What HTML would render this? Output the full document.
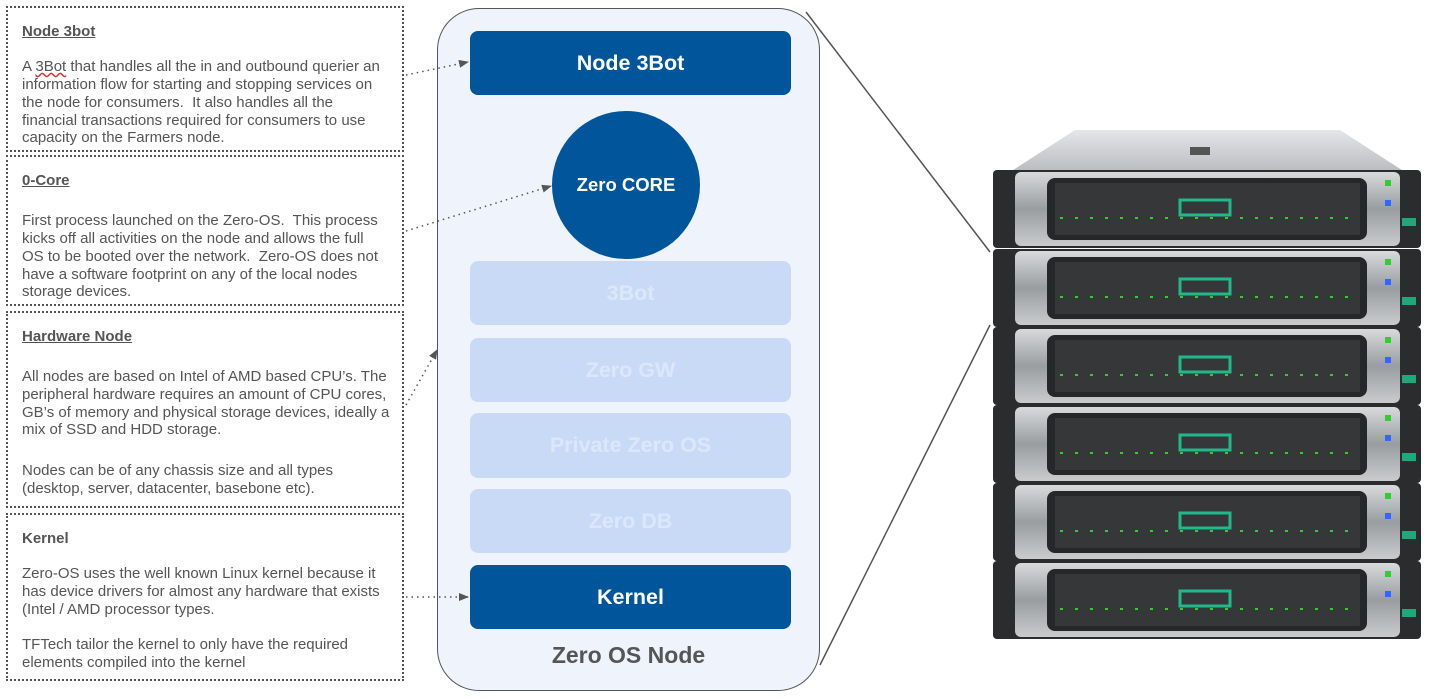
<!DOCTYPE html>
<html><head><meta charset="utf-8"><style>
body{margin:0;width:1449px;height:699px;background:#fff;position:relative;overflow:hidden;font-family:"Liberation Sans",sans-serif;}
.box{position:absolute;left:6px;width:398px;border:2px dotted #555;box-sizing:border-box;}
.t{position:absolute;left:22px;font-size:15px;color:#555;white-space:nowrap;line-height:18px;}
.h{font-weight:bold;text-decoration:underline;}
.blk{position:absolute;left:470px;width:321px;height:64px;border-radius:8px;display:flex;align-items:center;justify-content:center;font-weight:bold;font-size:21.5px;}
.dk{background:#00559b;color:#fff;}
.lt{background:#c9daf7;color:#dce7fa;}
</style></head><body>
<div class="box" style="top:6px;height:146px"></div>
<div class="box" style="top:155px;height:151px"></div>
<div class="box" style="top:311px;height:197px"></div>
<div class="box" style="top:513px;height:168px"></div>

<div class="t h" style="top:23px">Node 3bot</div>
<div class="t" style="top:58px">A <span style="text-decoration:underline wavy #d33">3Bot</span> that handles all the in and outbound querier an</div>
<div class="t" style="top:76px">information flow for starting and stopping services on</div>
<div class="t" style="top:94px">the node for consumers.&nbsp; It also handles all the</div>
<div class="t" style="top:112px">financial transactions required for consumers to use</div>
<div class="t" style="top:129px">capacity on the Farmers node.</div>

<div class="t h" style="top:172px">0-Core</div>
<div class="t" style="top:212px">First process launched on the Zero-OS.&nbsp; This process</div>
<div class="t" style="top:230px">kicks off all activities on the node and allows the full</div>
<div class="t" style="top:248px">OS to be booted over the network.&nbsp; Zero-OS does not</div>
<div class="t" style="top:266px">have a software footprint on any of the local nodes</div>
<div class="t" style="top:283px">storage devices.</div>

<div class="t h" style="top:328px">Hardware Node</div>
<div class="t" style="top:368px">All nodes are based on Intel of AMD based CPU’s. The</div>
<div class="t" style="top:386px">peripheral hardware requires an amount of CPU cores,</div>
<div class="t" style="top:404px">GB’s of memory and physical storage devices, ideally a</div>
<div class="t" style="top:421px">mix of SSD and HDD storage.</div>
<div class="t" style="top:462px">Nodes can be of any chassis size and all types</div>
<div class="t" style="top:480px">(desktop, server, datacenter, basebone etc).</div>

<div class="t" style="top:530px;font-weight:bold">Kernel</div>
<div class="t" style="top:565px">Zero-OS uses the well known Linux kernel because it</div>
<div class="t" style="top:583px">has device drivers for almost any hardware that exists</div>
<div class="t" style="top:601px">(Intel / AMD processor types.</div>
<div class="t" style="top:636px">TFTech tailor the kernel to only have the required</div>
<div class="t" style="top:654px">elements compiled into the kernel</div>

<div style="position:absolute;left:437px;top:8px;width:383px;height:683px;box-sizing:border-box;border:1.5px solid #555;border-radius:42px;background:#eef3fc"></div>
<div class="blk dk" style="top:31px">Node 3Bot</div>
<div style="position:absolute;left:552px;top:111px;width:148px;height:148px;border-radius:50%;background:#00559b;color:#fff;font-weight:bold;font-size:18.5px;display:flex;align-items:center;justify-content:center">Zero CORE</div>
<div class="blk lt" style="top:261px">3Bot</div>
<div class="blk lt" style="top:338px">Zero GW</div>
<div class="blk lt" style="top:413px;height:65px">Private Zero OS</div>
<div class="blk lt" style="top:489px">Zero DB</div>
<div class="blk dk" style="top:565px">Kernel</div>
<div style="position:absolute;left:437px;width:383px;top:642px;text-align:center;font-weight:bold;font-size:23px;color:#555">Zero OS Node</div>

<svg width="1449" height="699" style="position:absolute;left:0;top:0">
<defs><marker id="a" markerWidth="10" markerHeight="8" refX="9" refY="4" orient="auto" markerUnits="userSpaceOnUse"><path d="M0,0L10,4L0,8z" fill="#555"/></marker>
<linearGradient id="top" x1="0" y1="0" x2="0" y2="1"><stop offset="0" stop-color="#e4e6e8"/><stop offset="1" stop-color="#b9bcbf"/></linearGradient>
<linearGradient id="fr" x1="0" y1="0" x2="0" y2="1"><stop offset="0" stop-color="#d8dadc"/><stop offset=".5" stop-color="#9a9da0"/><stop offset="1" stop-color="#c9cbcd"/></linearGradient></defs>
<g stroke="#555" stroke-width="1.5" stroke-dasharray="1.5 4" fill="none">
<line x1="406" y1="75" x2="468" y2="62" marker-end="url(#a)"/>
<line x1="406" y1="231" x2="551" y2="186" marker-end="url(#a)"/>
<line x1="406" y1="405" x2="437" y2="350" marker-end="url(#a)"/>
<line x1="406" y1="597" x2="468" y2="597" marker-end="url(#a)"/>
</g>
<line x1="806" y1="12" x2="990" y2="252" stroke="#555" stroke-width="1.5"/>
<line x1="820" y1="665" x2="990" y2="325" stroke="#555" stroke-width="1.5"/>
<path d="M1075,130 L1340,130 L1405,172 L1010,172 Z" fill="url(#top)"/>
<rect x="1190" y="147" width="20" height="8" fill="#555"/>
<g id="u">
<rect x="993" y="170" width="428" height="78" rx="4" fill="#2b2c2e"/>
<rect x="1015" y="172" width="385" height="74" rx="6" fill="url(#fr)"/>
<rect x="1047" y="178" width="320" height="62" rx="8" fill="#262729"/>
<rect x="1055" y="183" width="305" height="52" fill="#353739"/>
<line x1="1060" y1="218" x2="1355" y2="218" stroke="#3c3" stroke-width="2" stroke-dasharray="3 12"/>
<rect x="1180" y="200" width="50" height="15" fill="none" stroke="#1fb98a" stroke-width="3"/>
<rect x="1385" y="180" width="6" height="6" fill="#3c3"/><rect x="1385" y="200" width="6" height="6" fill="#36f"/>
<rect x="1402" y="218" width="14" height="8" fill="#1fa87a"/>
</g>
<use href="#u" y="79"/><use href="#u" y="157"/><use href="#u" y="235"/><use href="#u" y="313"/><use href="#u" y="391"/>
</svg>
</body></html>
